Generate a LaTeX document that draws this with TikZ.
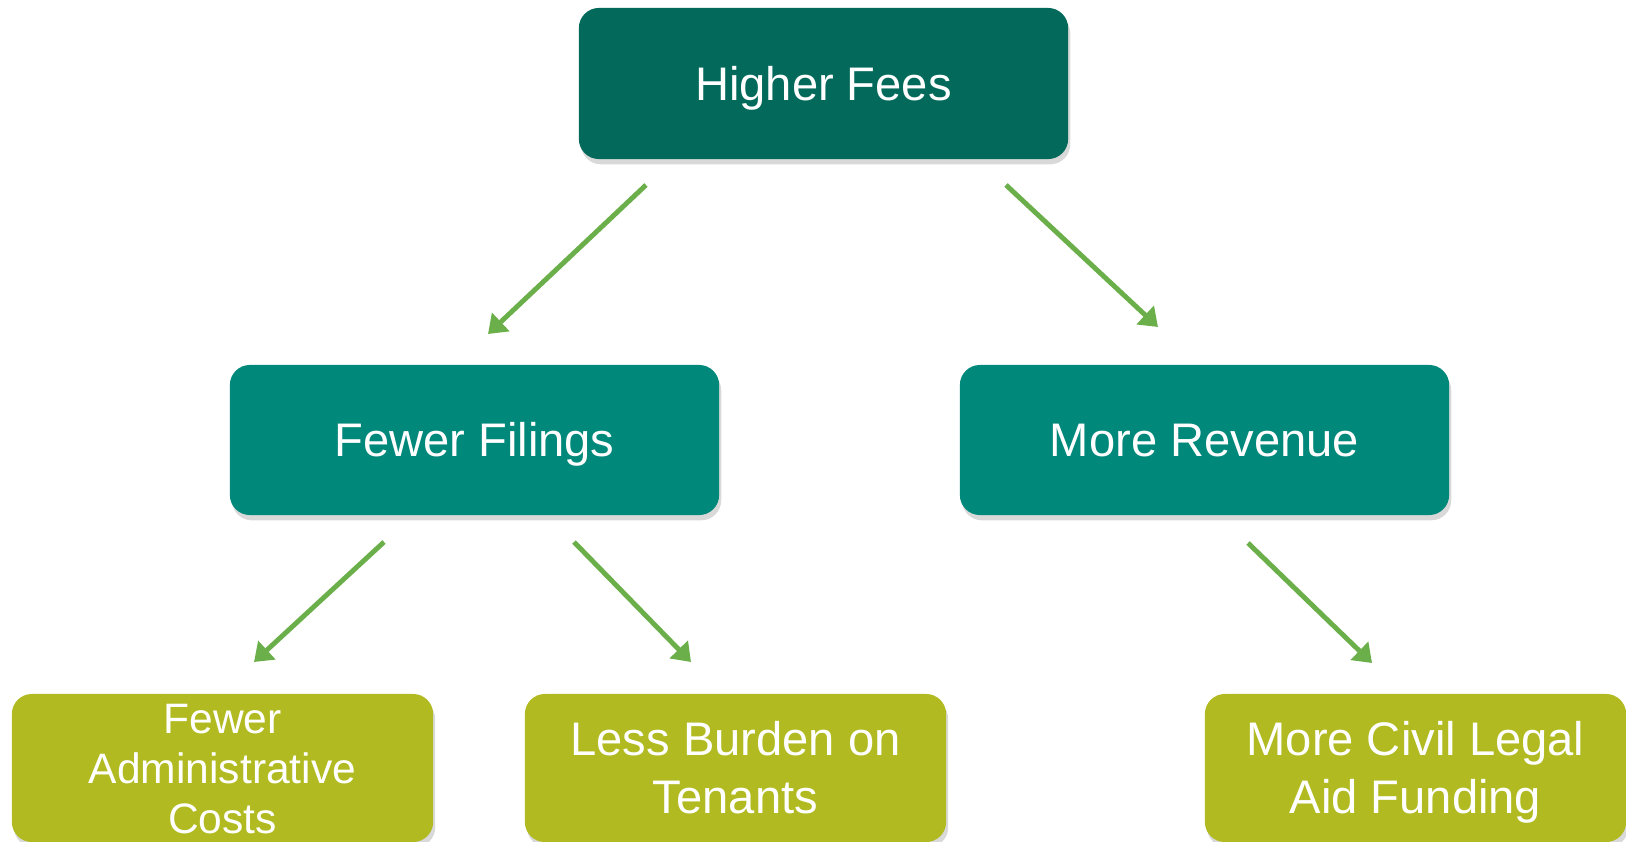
\documentclass[tikz,border=0pt]{standalone}
\usepackage{fontspec}
\setmainfont{Liberation Sans}
\usetikzlibrary{arrows.meta,shadows,positioning}

\definecolor{feesgreen}{HTML}{03695B}
\definecolor{midgreen}{HTML}{00887A}
\definecolor{leafolive}{HTML}{B1BB21}
\definecolor{arrowgreen}{HTML}{6AAF4A}

\tikzset{
  box/.style={rounded corners=0.2cm, text=white, align=center,
    inner sep=0pt, font=\fontsize{13.4pt}{16.5pt}\selectfont,
    text height=9.6pt, text depth=0pt,
    drop shadow={shadow xshift=0.6pt, shadow yshift=-1.5pt, opacity=0.3}},
  topbox/.style={box, fill=feesgreen, minimum width=4.89cm, minimum height=1.51cm},
  midbox/.style={box, fill=midgreen, minimum width=4.89cm, minimum height=1.50cm},
  leafbox/.style={box, fill=leafolive, minimum width=4.21cm, minimum height=1.48cm},
  effect/.style={draw=arrowgreen, line width=1.4pt,
    -{Triangle[length=5pt,width=7pt]}}
}

\begin{document}
\begin{tikzpicture}[x=0.01cm,y=-0.01cm]
    \useasboundingbox (0,0) rectangle (1626,842);
    % boxes
    \node[topbox] (fees) at (823.5,83.5) {Higher Fees};
    \node[midbox] (filings) at (474.5,440) {Fewer Filings};
    \node[midbox] (revenue) at (1204.5,440) {More Revenue};
    \node[leafbox, font=\fontsize{12.1pt}{14.2pt}\selectfont,
      text height=37.1pt] (admin) at (222.5,768) {Fewer\\Administrative\\Costs};
    \node[leafbox, text height=26.1pt] (tenants) at (735.5,768) {Less Burden on\\Tenants};
    \node[leafbox, text height=26.1pt] (aid) at (1415.5,768) {More Civil Legal\\Aid Funding};
    % arrow ends, they float between the boxes
    \coordinate (feesL) at (646,185);
    \coordinate (feesR) at (1006,185);
    \coordinate (filingsIn) at (488,334);
    \coordinate (revenueIn) at (1158,327);
    \coordinate (filingsL) at (384,542);
    \coordinate (filingsR) at (574,542);
    \coordinate (revenueOut) at (1248,543);
    \coordinate (adminIn) at (254,662);
    \coordinate (tenantsIn) at (691,662);
    \coordinate (aidIn) at (1372,663);
    % arrows
    \draw[effect] (feesL) -- (filingsIn);
    \draw[effect] (feesR) -- (revenueIn);
    \draw[effect] (filingsL) -- (adminIn);
    \draw[effect] (filingsR) -- (tenantsIn);
    \draw[effect] (revenueOut) -- (aidIn);
\end{tikzpicture}
\end{document}
